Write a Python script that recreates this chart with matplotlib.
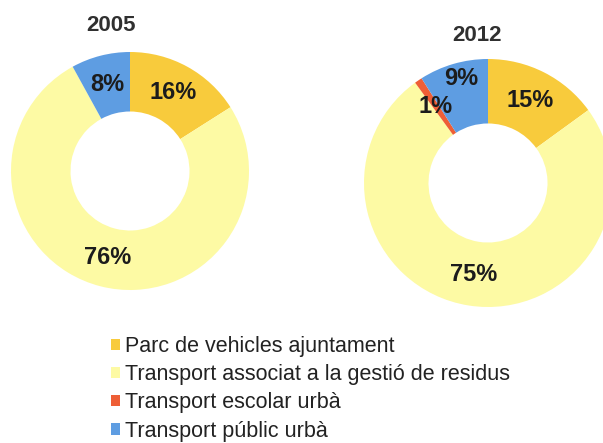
import matplotlib
matplotlib.use("Agg")
import matplotlib.pyplot as plt
from matplotlib.patches import Patch

plt.rcParams["font.family"] = ["Liberation Sans", "DejaVu Sans"]

categories = [
    "Parc de vehicles ajuntament",
    "Transport associat a la gestió de residus",
    "Transport escolar urbà",
    "Transport públic urbà",
]
colors = ["#F8CB3C", "#FDFAA4", "#EE5E36", "#5E9DE2"]
years = ["2005", "2012"]
values_2005 = [16, 76, 0, 8]
values_2012 = [15, 75, 1, 9]

W, H = 603, 443
fig = plt.figure(figsize=(W / 100, H / 100), dpi=100)


def px_axes(cx, cy, r):
    # axes box in figure fractions from a centre/radius given in pixels
    return fig.add_axes([(cx - r) / W, 1 - (cy + r) / H, 2 * r / W, 2 * r / H])


def pct(v):
    return f"{v:.0f}%" if v >= 0.5 else ""


def donut(ax, vals, width, title, tx, ty):
    wedges, _, autotexts = ax.pie(
        vals, colors=colors, startangle=90, counterclock=False, radius=1,
        wedgeprops=dict(width=width, linewidth=0), autopct=pct,
        pctdistance=0.75,
        textprops=dict(fontsize=17, fontweight="bold", color="#1c1c1c"))
    ax.set_xlim(-1, 1)
    ax.set_ylim(-1, 1)
    ax.text(tx, ty, title, ha="center", va="center", fontsize=16,
            fontweight="bold", color="#303030", clip_on=False)
    return autotexts


ax1 = px_axes(130, 171, 119)
donut(ax1, values_2005, 0.5, years[0], -0.16, 1.22)

ax2 = px_axes(488, 183, 124)
t2 = donut(ax2, values_2012, 0.52, years[1], -0.09, 1.19)
# 9% label sits a little higher in the original
x, y = t2[3].get_position()
t2[3].set_position((x * 1.02, y * 1.17))

handles = [Patch(facecolor=c, edgecolor="none") for c in colors]
fig.legend(handles, categories, loc="upper left",
           bbox_to_anchor=(100 / W, 1 - 325 / H), frameon=False,
           fontsize=15.5, handlelength=0.42, handleheight=0.42,
           handletextpad=0.22, labelspacing=0.34, borderpad=0,
           labelcolor="#222222")

fig.savefig("out.png", dpi=100)
